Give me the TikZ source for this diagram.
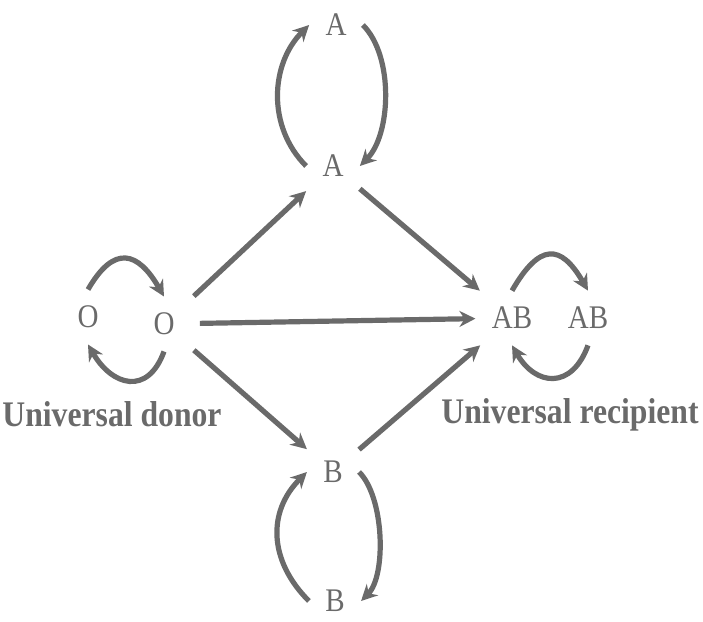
\documentclass[tikz,border=0pt]{standalone}
\usepackage{fontspec}
\setmainfont{Liberation Serif}
\newfontfamily\narrowserif[FakeStretch=0.88]{Liberation Serif}
\usetikzlibrary{arrows.meta}
\definecolor{inkgray}{HTML}{6A6A6A}

\begin{document}
\begin{tikzpicture}[x=0.5pt, y=0.5pt,
  grp/.style={font=\narrowserif\fontsize{16.5}{16.5}\selectfont, text=inkgray, inner sep=8pt},
  caption/.style={font=\narrowserif\bfseries\fontsize{18}{18}\selectfont, text=inkgray,
                  anchor=base, inner sep=0pt},
  arrow/.style={-{Stealth[length=8pt, width=8pt]}, line width=2.6pt, draw=inkgray},
]
\useasboundingbox (0,0) rectangle (703,622);

% ---- blood groups ----
\node[grp] (atop)    at (336,597) {A};
\node[grp] (amid)    at (333,456) {A};
\node[grp] (oleft)   at (88,305)  {O};
\node[grp] (oright)  at (164,298) {O};
\node[grp] (ableft)  at (512,304) {AB};
\node[grp] (abright) at (588,304) {AB};
\node[grp] (bmid)    at (333,150) {B};
\node[grp] (bbot)    at (335,21)  {B};

\node[caption] (donor)     at (112,195) {Universal donor};
\node[caption] (recipient) at (570,198) {Universal recipient};

% ---- donations ----
\draw[arrow, shorten <=2pt] (oright) -- (amid);
\draw[arrow, shorten <=4.5pt] (oright) -- (ableft);
\draw[arrow, shorten <=2pt] (oright) -- (bmid);
\draw[arrow] (amid) -- (ableft);
\draw[arrow] (bmid) -- (ableft);

% ---- same group ----
\draw[arrow] (amid.west) to[out=135, in=225, looseness=1.0] (atop.west);
\draw[arrow] (atop.east) to[out=-45, in=45, looseness=0.8] (amid.east);
\draw[arrow] (bmid.east) to[out=-45, in=45, looseness=0.71] (bbot.east);
\draw[arrow] (bbot.west) to[out=135, in=225, looseness=1.12] (bmid.west);

\draw[arrow] (oleft.north) to[out=60, in=120, looseness=1.75] (oright.north);
\draw[arrow] (oright.south) to[out=-110, in=-60, looseness=1.6] (oleft.south);
\draw[arrow] (ableft.north) to[out=60, in=120, looseness=1.85] (abright.north);
\draw[arrow] (abright.south) to[out=-110, in=-60, looseness=1.6] (ableft.south);

\end{tikzpicture}
\end{document}
